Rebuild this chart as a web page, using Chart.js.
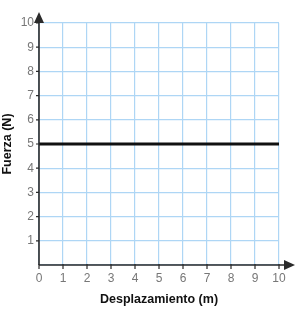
<!DOCTYPE html>
<html>
<head>
<meta charset="utf-8">
<script src="https://cdn.jsdelivr.net/npm/chart.js@4"></script>
<style>
  html, body { margin: 0; padding: 0; background: #fff; }
  #wrap { width: 299px; height: 309px; }
</style>
</head>
<body>
<div id="wrap"><canvas id="forceChart" width="299" height="309"></canvas></div>
<script>
// data
const displacement = [0, 10];
const force = [5, 5];
const xTicks = [0, 1, 2, 3, 4, 5, 6, 7, 8, 9, 10];
const yTicks = [1, 2, 3, 4, 5, 6, 7, 8, 9, 10];

const gridBlue = "#aed6f5";
const axisColor = "#2b2b2b";
const fontFamily = "Liberation Sans, Arial, sans-serif";

// draws both axes with arrowheads and little tick marks
const arrowAxes = {
    id: "arrowAxes",
    afterDatasetsDraw(chart) {
        const ctx = chart.ctx;
        const xs = chart.scales.x;
        const ys = chart.scales.y;
        const x0 = xs.getPixelForValue(0);
        const y0 = ys.getPixelForValue(0);
        ctx.save();
        ctx.strokeStyle = axisColor;
        ctx.fillStyle = axisColor;
        ctx.lineWidth = 1.6;

        ctx.beginPath();
        ctx.moveTo(x0, y0);
        ctx.lineTo(x0, 18);
        ctx.moveTo(x0, y0);
        ctx.lineTo(288, y0);
        ctx.stroke();

        // ticks
        ctx.lineWidth = 1.2;
        ctx.beginPath();
        xTicks.forEach((v) => {
            const px = xs.getPixelForValue(v);
            ctx.moveTo(px, y0 - 1);
            ctx.lineTo(px, y0 + 4);
        });
        yTicks.forEach((v) => {
            const py = ys.getPixelForValue(v);
            ctx.moveTo(x0 - 3, py);
            ctx.lineTo(x0, py);
        });
        ctx.stroke();

        // arrowheads
        ctx.beginPath();
        ctx.moveTo(x0, 12);
        ctx.lineTo(x0 - 5, 23);
        ctx.lineTo(x0 + 5, 23);
        ctx.closePath();
        ctx.fill();

        ctx.beginPath();
        ctx.moveTo(295, y0);
        ctx.lineTo(284, y0 - 5);
        ctx.lineTo(284, y0 + 5);
        ctx.closePath();
        ctx.fill();
        ctx.restore();
    }
};

const points = displacement.map((d, i) => ({ x: d, y: force[i] }));

new Chart("forceChart", {
    type: "line",
    data: {
        datasets: [{
            data: points,
            borderColor: "#111",
            borderWidth: 3,
            pointRadius: 0,
            fill: false,
            clip: false
        }]
    },
    options: {
        responsive: false,
        animation: false,
        layout: {
            padding: { top: 23, right: 20, bottom: 0, left: 0 }
        },
        plugins: {
            legend: { display: false },
            tooltip: { enabled: false }
        },
        scales: {
            x: {
                type: "linear",
                min: 0,
                max: 10,
                afterFit(scale) { scale.height = 44; },
                afterBuildTicks(scale) { scale.ticks = xTicks.map((v) => ({ value: v })); },
                grid: { color: gridBlue, lineWidth: 1.2, drawTicks: false },
                border: { display: false },
                ticks: {
                    padding: 6,
                    color: "#777",
                    font: { family: fontFamily, size: 12 },
                    maxRotation: 0
                },
                title: {
                    display: true,
                    text: "Desplazamiento (m)",
                    color: "#111",
                    font: { family: fontFamily, size: 12.5, weight: "bold" },
                    padding: { top: 0, bottom: 2 }
                }
            },
            y: {
                type: "linear",
                min: 0,
                max: 10,
                afterFit(scale) { scale.width = 39; },
                afterBuildTicks(scale) { scale.ticks = [0].concat(yTicks).map((v) => ({ value: v })); },
                grid: { color: gridBlue, lineWidth: 1.2, drawTicks: false },
                border: { display: false },
                ticks: {
                    padding: 5,
                    color: "#777",
                    font: { family: fontFamily, size: 12 },
                    callback: (v) => (v === 0 ? "" : v)
                },
                title: {
                    display: true,
                    text: "Fuerza (N)",
                    color: "#111",
                    font: { family: fontFamily, size: 12.5, weight: "bold" },
                    padding: { top: 0, bottom: 0 }
                }
            }
        }
    },
    plugins: [arrowAxes]
});
</script>
</body>
</html>
